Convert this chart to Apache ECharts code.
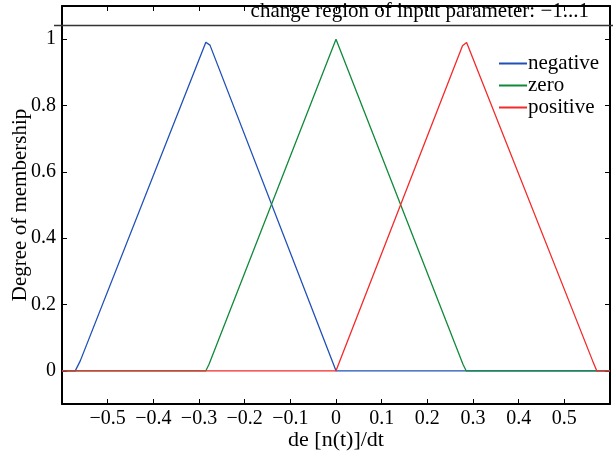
<!DOCTYPE html>
<html><head><meta charset="utf-8">
<script src="https://cdn.jsdelivr.net/npm/echarts@6/dist/echarts.min.js"></script>
<style>html,body{margin:0;padding:0;background:#fff}#c{width:613px;height:455px}</style>
</head><body><div id="c"></div>
<script>
const seriesNames = ['negative', 'zero', 'positive'];
const seriesColors = ['#1f50b8', '#108a3a', '#f42a2a'];
const negativeData = [[-0.6,0],[-0.571,0],[-0.56,0.03],[-0.285,0.991],[-0.276,0.982],[0,0],[0.6,0]];
const zeroData = [[-0.6,0],[-0.285,0],[-0.278,0.02],[0,1],[0.278,0.02],[0.285,0],[0.6,0]];
const positiveData = [[-0.6,0],[0,0],[0.277,0.98],[0.286,0.99],[0.562,0.03],[0.571,0],[0.6,0]];
const yTicks = [0, 0.2, 0.4, 0.6, 0.8, 1];
const titleText = 'change region of input parameter: \u22121...1';
const xName = 'de [n(t)]/dt';
const yName = 'Degree of membership';

const FONT = 'Liberation Serif';
const chart = echarts.init(document.getElementById('c'), null, {renderer: 'canvas'});
const allData = [negativeData, zeroData, positiveData];
const fmtX = v => {
  if (Math.abs(v) < 1e-9) return '0';
  return (Math.round(v * 10) / 10).toString().replace('-', '\u2212');
};
const fmtY = v => (Math.round(v * 10) / 10).toString();
const axisLine = {show: true, onZero: false, lineStyle: {color: '#000', width: 2}};
const tick = {show: true, inside: true, length: 5, lineStyle: {color: '#000', width: 1}};
chart.setOption({
  animation: false,
  backgroundColor: '#fff',
  grid: {left: 62, right: 3, top: 6, bottom: 51, containLabel: false, outerBoundsMode: 'none'},
  legend: {
    orient: 'vertical', left: 494, top: 48, itemGap: 1,
    itemWidth: 28, itemHeight: 2, icon: 'rect',
    textStyle: {fontFamily: FONT, fontSize: 21, color: '#000', padding: [0,0,0,-4]},
    data: seriesNames
  },
  graphic: [
    {type: 'line', shape: {x1: 54, y1: 25.5, x2: 613, y2: 25.5}, style: {stroke: '#333', lineWidth: 1.5}, z: 10},
    {type: 'text', right: 24, top: 1, style: {text: titleText, font: '21px "Liberation Serif"', fill: '#000'}, z: 10}
  ],
  xAxis: [{
    type: 'value', min: -0.6, max: 0.6, interval: 0.1,
    name: xName, nameLocation: 'middle', nameGap: 25, nameMoveOverlap: false,
    nameTextStyle: {fontFamily: FONT, fontSize: 22, color: '#000', verticalAlign: 'top'},
    axisLine: axisLine, axisTick: tick,
    axisLabel: {fontFamily: FONT, fontSize: 20, color: '#000', margin: 5, formatter: fmtX, showMinLabel: false, showMaxLabel: false},
    splitLine: {show: false}
  }, {
    type: 'value', position: 'top', min: -0.6, max: 0.6, interval: 0.1,
    axisLine: axisLine, axisTick: tick,
    axisLabel: {show: false}, splitLine: {show: false}
  }],
  yAxis: [{
    type: 'value', min: -0.1, max: 1.1,
    name: yName, nameLocation: 'middle', nameGap: 31, nameMoveOverlap: false,
    nameTextStyle: {fontFamily: FONT, fontSize: 21, color: '#000', verticalAlign: 'bottom'},
    axisLine: axisLine,
    axisTick: Object.assign({customValues: yTicks}, tick),
    axisLabel: {fontFamily: FONT, fontSize: 20, color: '#000', margin: 6, customValues: yTicks, formatter: fmtY},
    splitLine: {show: false}
  }, {
    type: 'value', position: 'right', min: -0.1, max: 1.1,
    axisLine: axisLine,
    axisTick: Object.assign({customValues: yTicks}, tick),
    axisLabel: {show: false}, splitLine: {show: false}
  }],
  series: seriesNames.map((n, i) => ({
    name: n, type: 'line', data: allData[i], showSymbol: false, symbol: 'none',
    color: seriesColors[i],
    lineStyle: {color: seriesColors[i], width: 1.3},
    xAxisIndex: 0, yAxisIndex: 0
  }))
});
</script></body></html>
